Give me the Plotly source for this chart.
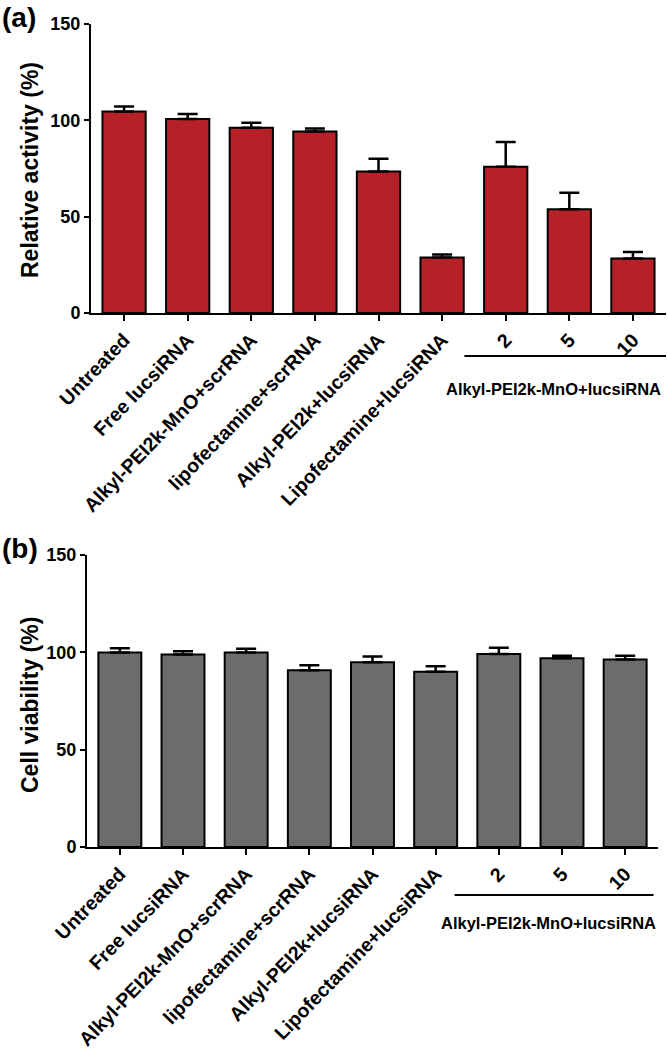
import plotly.graph_objects as go

categories = ["Untreated", "Free lucsiRNA", "Alkyl-PEI2k-MnO+scrRNA", "lipofectamine+scrRNA",
              "Alkyl-PEI2k+lucsiRNA", "Lipofectamine+lucsiRNA", "2", "5", "10"]
activity = [104.6, 100.7, 96.2, 94.2, 73.4, 28.8, 75.9, 53.9, 28.3]
activity_err = [2.6, 2.6, 2.5, 1.5, 6.7, 1.5, 12.9, 8.5, 3.4]
viability = [99.9, 98.9, 99.9, 90.8, 94.9, 90.0, 99.2, 97.0, 96.3]
viability_err = [2.2, 1.7, 1.9, 2.6, 2.9, 2.9, 3.2, 1.2, 2.0]
y_ticks = [0, 50, 100, 150]
group_label = "Alkyl-PEI2k-MnO+lucsiRNA"
title_a = "Relative activity (%)"
title_b = "Cell viability (%)"

FONT = "Liberation Sans, Arial, sans-serif"
W, H = 667, 1050
RED = "#B52126"
GRAY = "#6B6C6E"

fig = go.Figure()
fig.add_trace(go.Bar(x=categories, y=activity, xaxis="x", yaxis="y",
                     marker=dict(color=RED, line=dict(color="black", width=2)),
                     width=0.68,
                     error_y=dict(type="data", array=activity_err, arrayminus=[0]*9, symmetric=False,
                                  color="black", thickness=2.5, width=10)))
fig.add_trace(go.Bar(x=categories, y=viability, xaxis="x2", yaxis="y2",
                     marker=dict(color=GRAY, line=dict(color="black", width=2)),
                     width=0.68,
                     error_y=dict(type="data", array=viability_err, arrayminus=[0]*9, symmetric=False,
                                  color="black", thickness=2.5, width=10)))

def px_x(p):
    return p / W

def px_y(p):
    return 1 - p / H

xcommon = dict(type="category", range=[-0.52, 8.52], showline=True, linecolor="black", linewidth=2,
               ticks="outside", ticklen=6, tickwidth=2, tickcolor="black", tickangle=-46,
               tickfont=dict(family=FONT, size=19.5, color="black", weight="bold"),
               showgrid=False, zeroline=False, automargin=False)
ycommon = dict(range=[0, 150], tickvals=y_ticks, showline=True, linecolor="black", linewidth=2,
               ticks="outside", ticklen=5, tickwidth=2, tickcolor="black",
               tickfont=dict(family=FONT, size=18, color="black", weight="bold"),
               showgrid=False, zeroline=False, automargin=False)

fig.update_layout(
    width=W, height=H, margin=dict(l=0, r=0, t=0, b=0, autoexpand=False),
    paper_bgcolor="white", plot_bgcolor="white", showlegend=False, bargap=0.3,
    xaxis=dict(xcommon, domain=[px_x(91), px_x(666)], anchor="y"),
    yaxis=dict(ycommon, domain=[px_y(313), px_y(24)], anchor="x"),
    xaxis2=dict(xcommon, domain=[px_x(87), px_x(658)], anchor="y2"),
    yaxis2=dict(ycommon, domain=[px_y(847), px_y(555)], anchor="x2"),
)

fig.add_annotation(text=title_a, xref="paper", yref="paper", x=px_x(30), y=px_y(170), textangle=-90,
                   xanchor="center", yanchor="middle", showarrow=False,
                   font=dict(family=FONT, size=23, color="black", weight="bold"))
fig.add_annotation(text=title_b, xref="paper", yref="paper", x=px_x(30), y=px_y(705), textangle=-90,
                   xanchor="center", yanchor="middle", showarrow=False,
                   font=dict(family=FONT, size=23, color="black", weight="bold"))

fig.add_annotation(text="(a)", xref="paper", yref="paper", x=0, y=px_y(0), xanchor="left", yanchor="top",
                   showarrow=False, font=dict(family=FONT, size=28, color="black", weight="bold"))
fig.add_annotation(text="(b)", xref="paper", yref="paper", x=0, y=px_y(531), xanchor="left", yanchor="top",
                   showarrow=False, font=dict(family=FONT, size=28, color="black", weight="bold"))

fig.add_shape(type="line", xref="x", yref="paper", x0=5.35, x1=8.52, y0=px_y(356), y1=px_y(356),
              line=dict(color="black", width=2))
fig.add_shape(type="line", xref="x2", yref="paper", x0=5.3, x1=8.45, y0=px_y(895), y1=px_y(895),
              line=dict(color="black", width=2))
fig.add_annotation(text=group_label, xref="paper", yref="paper", x=px_x(553), y=px_y(389),
                   xanchor="center", yanchor="middle", showarrow=False,
                   font=dict(family=FONT, size=16.5, color="black", weight="bold"))
fig.add_annotation(text=group_label, xref="paper", yref="paper", x=px_x(548), y=px_y(923),
                   xanchor="center", yanchor="middle", showarrow=False,
                   font=dict(family=FONT, size=16.5, color="black", weight="bold"))

fig.write_html("out.html", config={"displayModeBar": False},
               post_script="document.body.style.margin='0';")
